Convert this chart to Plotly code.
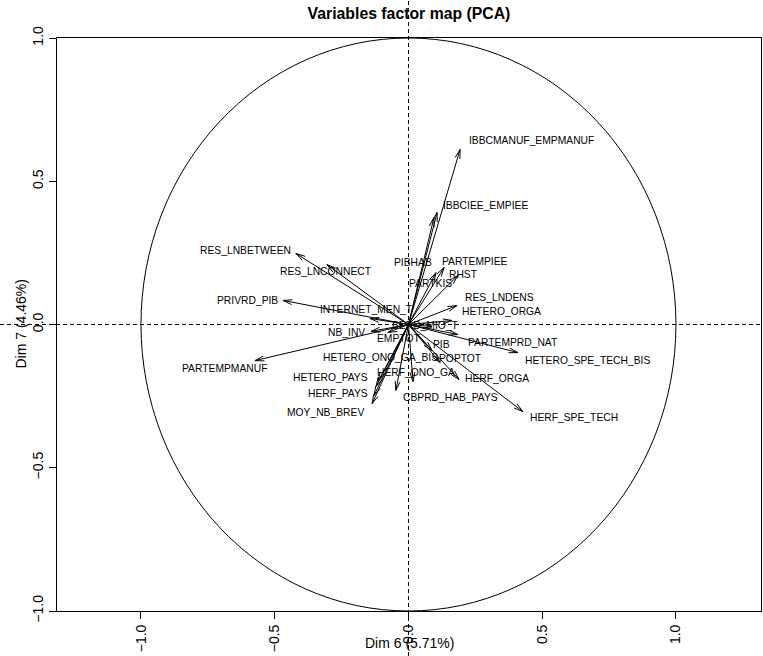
import math
import plotly.graph_objects as go

# Correlation of each variable with dimensions 6 and 7
variables = [
    "IBBCMANUF_EMPMANUF", "IBBCIEE_EMPIEE", "PIBHAB", "PARTEMPIEE", "RHST",
    "PARTKIS", "RES_LNDENS", "HETERO_ORGA", "BERD_MIO_T", "PARTEMPRD_NAT",
    "HETERO_SPE_TECH_BIS", "PIB", "POPTOT", "HERF_ORGA", "HERF_SPE_TECH",
    "CBPRD_HAB_PAYS", "HERF_ONO_GA", "HETERO_ONO_GA_BIS", "HETERO_PAYS",
    "HERF_PAYS", "MOY_NB_BREV", "PARTEMPMANUF", "NB_INV", "EMPTOT",
    "INTERNET_MEN_T", "PRIVRD_PIB", "RES_LNCONNECT", "RES_LNBETWEEN",
]
dim6 = [
    0.193, 0.107, 0.095, 0.133, 0.185,
    0.103, 0.181, 0.163, 0.088, 0.185,
    0.409, 0.088, 0.118, 0.189, 0.428,
    0.017, -0.047, -0.114, -0.121,
    -0.129, -0.136, -0.574, -0.140, -0.077,
    -0.144, -0.469, -0.305, -0.421,
]
dim7 = [
    0.611, 0.391, 0.373, 0.199, 0.171,
    0.181, 0.066, 0.014, -0.007, -0.035,
    -0.098, -0.091, -0.133, -0.192, -0.304,
    -0.199, -0.230, -0.199, -0.216,
    -0.248, -0.276, -0.126, -0.024, -0.028,
    0.021, 0.084, 0.209, 0.248,
]

# Label anchor points (centre of each text), in axis units
label_x = [
    0.460, 0.288, 0.017, 0.250, 0.207,
    0.082, 0.340, 0.346, 0.062, 0.391,
    0.669, 0.123, 0.193, 0.331, 0.617,
    0.157, 0.028, -0.105, -0.292,
    -0.264, -0.310, -0.686, -0.230, -0.037,
    -0.157, -0.602, -0.307, -0.611,
]
label_y = [
    0.642, 0.415, 0.216, 0.220, 0.175,
    0.143, 0.094, 0.045, -0.003, -0.063,
    -0.126, -0.070, -0.119, -0.188, -0.325,
    -0.255, -0.168, -0.115, -0.185,
    -0.241, -0.307, -0.154, -0.028, -0.049,
    0.052, 0.084, 0.185, 0.258,
]

tick_vals = [-1.0, -0.5, 0.0, 0.5, 1.0]
tick_text = ["\u22121.0", "\u22120.5", "0.0", "0.5", "1.0"]

W, H = 763, 656
M = dict(l=57, r=2, t=38, b=45)
XR = [-1.314, 1.318]
YR = [-1.0, 1.0]
pw = W - M["l"] - M["r"]
ph = H - M["t"] - M["b"]
sx = pw / (XR[1] - XR[0])   # pixels per unit, x
sy = ph / (YR[1] - YR[0])   # pixels per unit, y

FONT = "Liberation Sans, Arial, Helvetica, sans-serif"

# Arrow shafts and open heads (R-style, 15 degree wings)
head_len = 9.5
ang = math.radians(15)
xs, ys = [], []
for x, y in zip(dim6, dim7):
    xs += [0, x, None]
    ys += [0, y, None]
    px, py = x * sx, y * sy
    n = math.hypot(px, py)
    ux, uy = px / n, py / n
    for s in (1, -1):
        c, si = math.cos(ang), math.sin(s * ang)
        wx = ux * c - uy * si
        wy = ux * si + uy * c
        xs += [x - head_len * wx / sx, x, None]
        ys += [y - head_len * wy / sy, y, None]

fig = go.Figure()
fig.add_trace(go.Scatter(
    x=xs, y=ys, mode="lines",
    line=dict(color="black", width=1),
    hoverinfo="skip", showlegend=False,
))

# Unit circle
fig.add_shape(type="circle", xref="x", yref="y", x0=-1, y0=-1, x1=1, y1=1,
              line=dict(color="black", width=1))

# Dashed reference lines through the origin, spanning the whole figure
fig.add_shape(type="line", xref="x", yref="paper", x0=0, x1=0,
              y0=-M["b"] / ph, y1=1 + M["t"] / ph,
              line=dict(color="black", width=1, dash="4px,3px"))
fig.add_shape(type="line", xref="paper", yref="y", y0=0, y1=0,
              x0=-M["l"] / pw, x1=1 + M["r"] / pw,
              line=dict(color="black", width=1, dash="4px,3px"))

for name, lx, ly in zip(variables, label_x, label_y):
    fig.add_annotation(x=lx, y=ly, text=name, showarrow=False,
                       xanchor="center", yanchor="middle",
                       font=dict(family=FONT, size=10.3, color="black"))

# Axis titles
fig.add_annotation(x=0.5, xref="paper", y=0, yref="paper", yshift=-32,
                   text="Dim 6 (5.71%)", showarrow=False,
                   xanchor="center", yanchor="middle",
                   font=dict(family=FONT, size=14, color="black"))
fig.add_annotation(x=0, xref="paper", xshift=-37, y=0.5, yref="paper",
                   text="Dim 7 (4.46%)", showarrow=False, textangle=-90,
                   xanchor="center", yanchor="middle",
                   font=dict(family=FONT, size=14, color="black"))

axis_common = dict(
    showgrid=False, zeroline=False, showline=True, mirror=True,
    linecolor="black", linewidth=1, ticks="outside", ticklen=7,
    tickcolor="black", tickwidth=1, tickangle=-90,
    tickvals=tick_vals, ticktext=tick_text,
    tickfont=dict(family=FONT, size=14, color="black"),
)

fig.update_layout(
    width=W, height=H, margin=M,
    paper_bgcolor="white", plot_bgcolor="white",
    xaxis=dict(range=XR, **axis_common),
    yaxis=dict(range=YR, **axis_common),
    title=dict(text="<b>Variables factor map (PCA)</b>", x=0.5, xref="paper",
               y=1 - 13 / H, yanchor="middle",
               font=dict(family=FONT, size=15.8, color="black")),
    showlegend=False,
)

fig.write_html("out.html")
